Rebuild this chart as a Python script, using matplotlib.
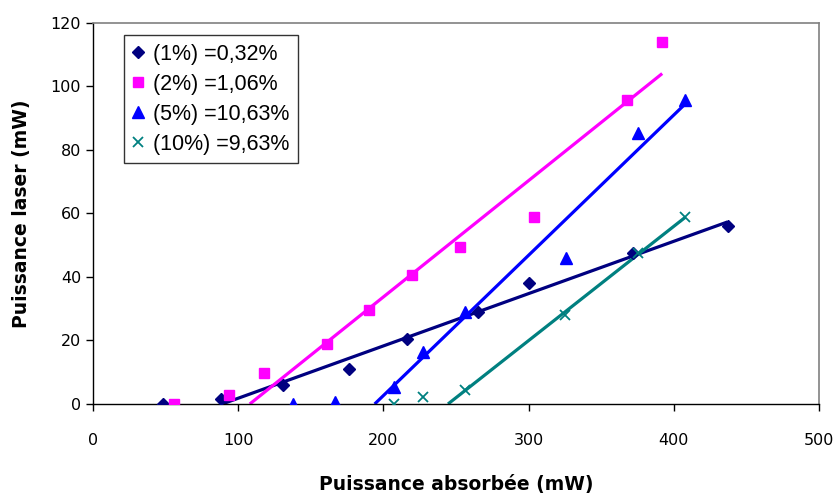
import matplotlib
matplotlib.use("Agg")
import matplotlib.pyplot as plt

# --- DATA ---
x_1 = [48, 88, 131, 176, 216, 265, 300, 372, 437]
y_1 = [0, 1.5, 6, 11, 20.5, 29, 38, 47.5, 56]
x_2 = [56, 94, 118, 161, 190, 220, 253, 304, 368, 392]
y_2 = [0, 2.8, 9.7, 18.8, 29.5, 40.7, 49.4, 58.8, 95.6, 113.9]
x_5 = [138, 167, 207, 227, 256, 326, 375, 408]
y_5 = [0, 0.5, 5.3, 16.3, 29, 46, 85.3, 95.6]
x_10 = [207, 227, 256, 325, 375, 408]
y_10 = [0, 2.2, 4.4, 28, 47.5, 58.8]

# trend lines (start / end)
trend_x_1 = [89, 437]
trend_y_1 = [0, 57.3]
trend_x_2 = [108, 392]
trend_y_2 = [0, 104]
trend_x_5 = [194, 408]
trend_y_5 = [0, 94.5]
trend_x_10 = [244.5, 408]
trend_y_10 = [0, 58.8]

labels = ["(1%) =0,32%", "(2%) =1,06%", "(5%) =10,63%", "(10%) =9,63%"]

# --- PLOT ---
fig = plt.figure(figsize=(8.39, 4.96), dpi=100)
ax = fig.add_axes([0.1108, 0.1855, 0.8654, 0.7687])

ax.plot(trend_x_1, trend_y_1, color="#000080", lw=2.3, solid_capstyle="butt")
ax.plot(trend_x_2, trend_y_2, color="#FF00FF", lw=2.3, solid_capstyle="butt")
ax.plot(trend_x_5, trend_y_5, color="#0000FF", lw=2.3, solid_capstyle="butt")
ax.plot(trend_x_10, trend_y_10, color="#008080", lw=2.3, solid_capstyle="butt")

ax.plot(x_1, y_1, "D", color="#000080", ms=6, ls="none", label=labels[0], zorder=3)
ax.plot(x_2, y_2, "s", color="#FF00FF", ms=7.5, ls="none", label=labels[1], zorder=3)
ax.plot(x_5, y_5, "^", color="#0000FF", ms=8, ls="none", label=labels[2], zorder=3)
ax.plot(x_10, y_10, "x", color="#008080", ms=7.5, mew=1.3, ls="none", label=labels[3], zorder=3)

ax.set_xlim(0, 500)
ax.set_ylim(0, 120)
ax.set_xticks(range(0, 501, 100))
ax.set_yticks(range(0, 121, 20))
ax.tick_params(direction="out", length=5, labelsize=11.5, width=1)
ax.tick_params(axis="x", pad=16)

for side in ["top", "right"]:
    ax.spines[side].set_color("#808080")
    ax.spines[side].set_linewidth(1.2)
for side in ["left", "bottom"]:
    ax.spines[side].set_color("black")
    ax.spines[side].set_linewidth(1.0)

ax.set_xlabel("Puissance absorbée (mW)", fontsize=13.5, fontweight="bold", labelpad=19)
ax.set_ylabel("Puissance laser (mW)", fontsize=13.5, fontweight="bold", labelpad=14)

leg = ax.legend(loc="upper left", bbox_to_anchor=(0.043, 0.968), borderaxespad=0,
                frameon=True, fancybox=False, edgecolor="black", handlelength=0.5,
                handletextpad=0.45, labelspacing=0.42, borderpad=0.4,
                prop={"family": "Liberation Sans", "size": 15.5})
leg.get_frame().set_linewidth(1.0)

fig.savefig("out.png", dpi=100)
